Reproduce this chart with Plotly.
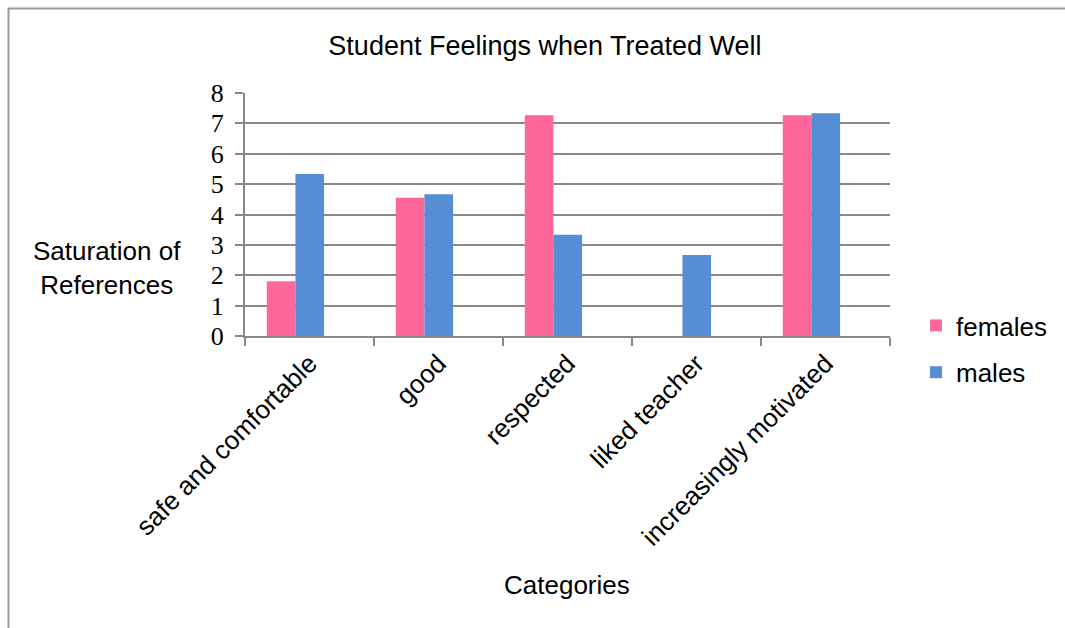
import plotly.graph_objects as go

categories = ["safe and comfortable", "good", "respected", "liked teacher", "increasingly motivated"]
females = [1.8, 4.55, 7.27, 0, 7.27]
males = [5.33, 4.67, 3.33, 2.67, 7.33]
y_ticks = [0, 1, 2, 3, 4, 5, 6, 7, 8]

W, H = 1065, 628
L, R, T, B = 245, 890, 93, 336  # plot area pixels

def px_x(p):
    return (p - L) / (R - L)

def px_y(p):
    return (B - p) / (B - T)

SANS = "Liberation Sans, Arial"
fig = go.Figure()
fig.add_trace(go.Bar(x=categories, y=females, name="females", marker_color="#FF6699",
                     width=0.222, offset=-0.331, legendgroup="f",
                     marker_line_width=0))
fig.add_trace(go.Bar(x=categories, y=males, name="males", marker_color="#558ED5",
                     width=0.222, offset=-0.109, legendgroup="m",
                     marker_line_width=0))

fig.update_layout(
    width=W, height=H,
    margin=dict(l=L, r=W - R, t=T, b=H - B, pad=0),
    paper_bgcolor="white", plot_bgcolor="white",
    barmode="overlay",
    title=dict(text="Student Feelings when Treated Well", x=545 / W, xanchor="center",
               y=1 - 46 / H, yanchor="middle",
               font=dict(family=SANS, size=27, color="black")),
    font=dict(family=SANS, color="black"),
    legend=dict(x=px_x(916), xanchor="left", y=px_y(302), yanchor="top",
                font=dict(family=SANS, size=26, color="black"),
                tracegroupgap=10, traceorder="grouped", bgcolor="rgba(0,0,0,0)"),
    showlegend=True,
)

fig.update_xaxes(
    type="category", tickson="boundaries", ticks="outside", ticklen=8, tickwidth=2,
    tickcolor="#888888", showline=True, linecolor="#888888", linewidth=2,
    showgrid=False, tickangle=-45,
    tickfont=dict(family=SANS, size=26, color="black"),
    range=[-0.5, 4.5],
)
fig.update_yaxes(
    range=[0, 8], tickvals=y_ticks, ticks="outside", ticklen=8, tickwidth=2,
    tickcolor="#888888", showline=True, linecolor="#888888", linewidth=2,
    showgrid=True, gridcolor="#888888", gridwidth=2, zeroline=False,
    ticklabelstandoff=6,
    tickfont=dict(family="Liberation Serif, Times New Roman", size=26, color="black"),
)

fig.add_annotation(text="Saturation of<br>References", xref="paper", yref="paper",
                   x=px_x(107), y=px_y(268), xanchor="center", yanchor="middle",
                   showarrow=False, align="center",
                   font=dict(family=SANS, size=26, color="black"))
fig.add_annotation(text="Categories", xref="paper", yref="paper",
                   x=px_x(567), y=px_y(585), xanchor="center", yanchor="middle",
                   showarrow=False,
                   font=dict(family=SANS, size=26, color="black"))

fig.add_shape(type="rect", xref="paper", yref="paper",
              x0=px_x(8.5), x1=px_x(1080), y0=px_y(650), y1=px_y(8.5),
              line=dict(color="#999999", width=2), layer="below")

fig.write_html("out.html")
